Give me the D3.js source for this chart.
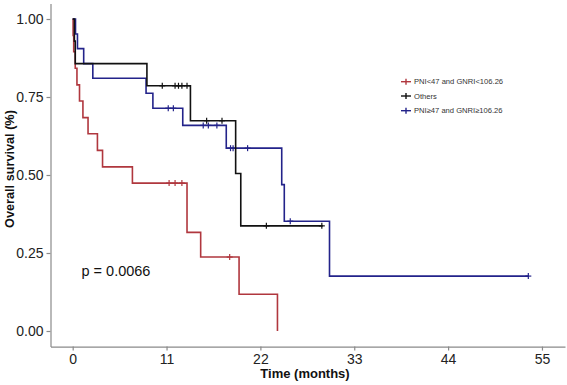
<!DOCTYPE html>
<html><head><meta charset="utf-8">
<script src="https://cdn.jsdelivr.net/npm/d3@7"></script>
<style>body{margin:0;background:#fff}svg{display:block}</style>
</head><body>
<svg id="c" width="567" height="385"></svg>
<script>
// ---- data ----
const seriesNames = ["PNI<47 and GNRI<106.26", "Others", "PNI\u226547 and GNRI\u2265106.26"];
const seriesColors = ["#b0373e", "#111111", "#23238a"];

const redTimes = [0, 0.05, 0.12, 0.3, 0.5, 0.8, 1.2, 1.8, 2.9, 3.5, 7.0, 13.4, 15.0, 19.5, 24.0];
const redSurv  = [1, 0.947, 0.895, 0.842, 0.789, 0.737, 0.684, 0.632, 0.579, 0.526, 0.474, 0.316, 0.237, 0.118, 0];
const redCensor = [11.3, 12.0, 12.8, 18.4];

const blackTimes = [0, 0.2, 0.3, 8.7, 13.8, 19.1, 19.7, 29.3];
const blackSurv  = [1, 0.929, 0.857, 0.786, 0.674, 0.505, 0.337, 0.337];
const blackCensor = [10.5, 12.0, 12.4, 12.8, 13.4, 15.7, 17.5, 22.7, 29.2];

const blueTimes = [0, 0.33, 0.56, 1.29, 2.36, 8.6, 9.4, 12.9, 18.0, 24.5, 24.8, 30.1, 53.4];
const blueSurv  = [1, 0.952, 0.905, 0.857, 0.81, 0.762, 0.714, 0.659, 0.586, 0.469, 0.352, 0.176, 0.176];
const blueCensor = [11.2, 11.8, 15.3, 15.9, 16.9, 18.5, 18.8, 20.5, 25.5, 53.4];

const xTicks = [0, 11, 22, 33, 44, 55];
const yTicks = [0, 0.25, 0.5, 0.75, 1];
const pText = "p = 0.0066";

// ---- scales ----
const svg = d3.select("#c");
const x = d3.scaleLinear().domain([-2.6, 57.7]).range([50.5, 565]);
const y = d3.scaleLinear().domain([-0.05, 1.05]).range([346.6, 3.4]);
const font = "Arial, 'Liberation Sans', sans-serif";

// axes
const xAxis = svg.append("g").attr("transform", `translate(0,${y(-0.05)})`)
  .call(d3.axisBottom(x).tickValues(xTicks).tickSize(4).tickPadding(3).tickSizeOuter(0));
const yAxis = svg.append("g").attr("transform", `translate(${x(-2.6)},0)`)
  .call(d3.axisLeft(y).tickValues(yTicks).tickFormat(d3.format(".2f")).tickSize(4).tickPadding(3).tickSizeOuter(0));
[xAxis, yAxis].forEach(g => {
  g.select(".domain").attr("stroke", "#8a8a8a").attr("stroke-width", 1.2);
  g.selectAll(".tick line").attr("stroke", "#8a8a8a").attr("stroke-width", 1.2);
  g.selectAll(".tick text").attr("fill", "#222").style("font-family", font).style("font-size", "14px");
});

// titles
svg.append("text").attr("x", 305).attr("y", 378).attr("text-anchor", "middle")
  .style("font-family", font).style("font-size", "13px").style("font-weight", "bold").attr("fill", "#111")
  .text("Time (months)");
svg.append("text").attr("transform", "translate(14,169) rotate(-90)").attr("text-anchor", "middle")
  .style("font-family", font).style("font-size", "12.7px").style("font-weight", "bold").attr("fill", "#111")
  .text("Overall survival (%)");

// curves
const series = [
  {t: redTimes, s: redSurv, c: redCensor, col: seriesColors[0]},
  {t: blueTimes, s: blueSurv, c: blueCensor, col: seriesColors[2]},
  {t: blackTimes, s: blackSurv, c: blackCensor, col: seriesColors[1]}
];
const line = d3.line().x(d => x(d[0])).y(d => y(d[1])).curve(d3.curveStepAfter);
function survAt(sr, tt) {
  let v = sr.s[0];
  for (let i = 0; i < sr.t.length; i++) if (sr.t[i] <= tt) v = sr.s[i];
  return v;
}
series.forEach(sr => {
  const pts = sr.t.map((t, i) => [t, sr.s[i]]);
  svg.append("path").attr("d", line(pts)).attr("fill", "none")
    .attr("stroke", sr.col).attr("stroke-width", 1.6);
  const g = svg.append("g").attr("stroke", sr.col).attr("stroke-width", 1.2);
  sr.c.forEach(ct => {
    const cx = x(ct), cy = y(survAt(sr, ct));
    g.append("line").attr("x1", cx - 3).attr("x2", cx + 3).attr("y1", cy).attr("y2", cy);
    g.append("line").attr("x1", cx).attr("x2", cx).attr("y1", cy - 3).attr("y2", cy + 3);
  });
});

// p value
svg.append("text").attr("x", 81.5).attr("y", 276).style("font-family", font).style("font-size", "14.5px")
  .attr("fill", "#111").text(pText);

// legend
const legY = [81.7, 96, 110.7];
seriesNames.forEach((n, i) => {
  const g = svg.append("g");
  g.append("line").attr("x1", 401).attr("x2", 411).attr("y1", legY[i]).attr("y2", legY[i])
    .attr("stroke", seriesColors[i]).attr("stroke-width", 1.4);
  g.append("line").attr("x1", 406).attr("x2", 406).attr("y1", legY[i] - 3).attr("y2", legY[i] + 3)
    .attr("stroke", seriesColors[i]).attr("stroke-width", 1.4);
  g.append("text").attr("x", 414).attr("y", legY[i] + 2.7).style("font-family", font)
    .style("font-size", "7.6px").attr("fill", "#333").text(n);
});
</script>
</body></html>
